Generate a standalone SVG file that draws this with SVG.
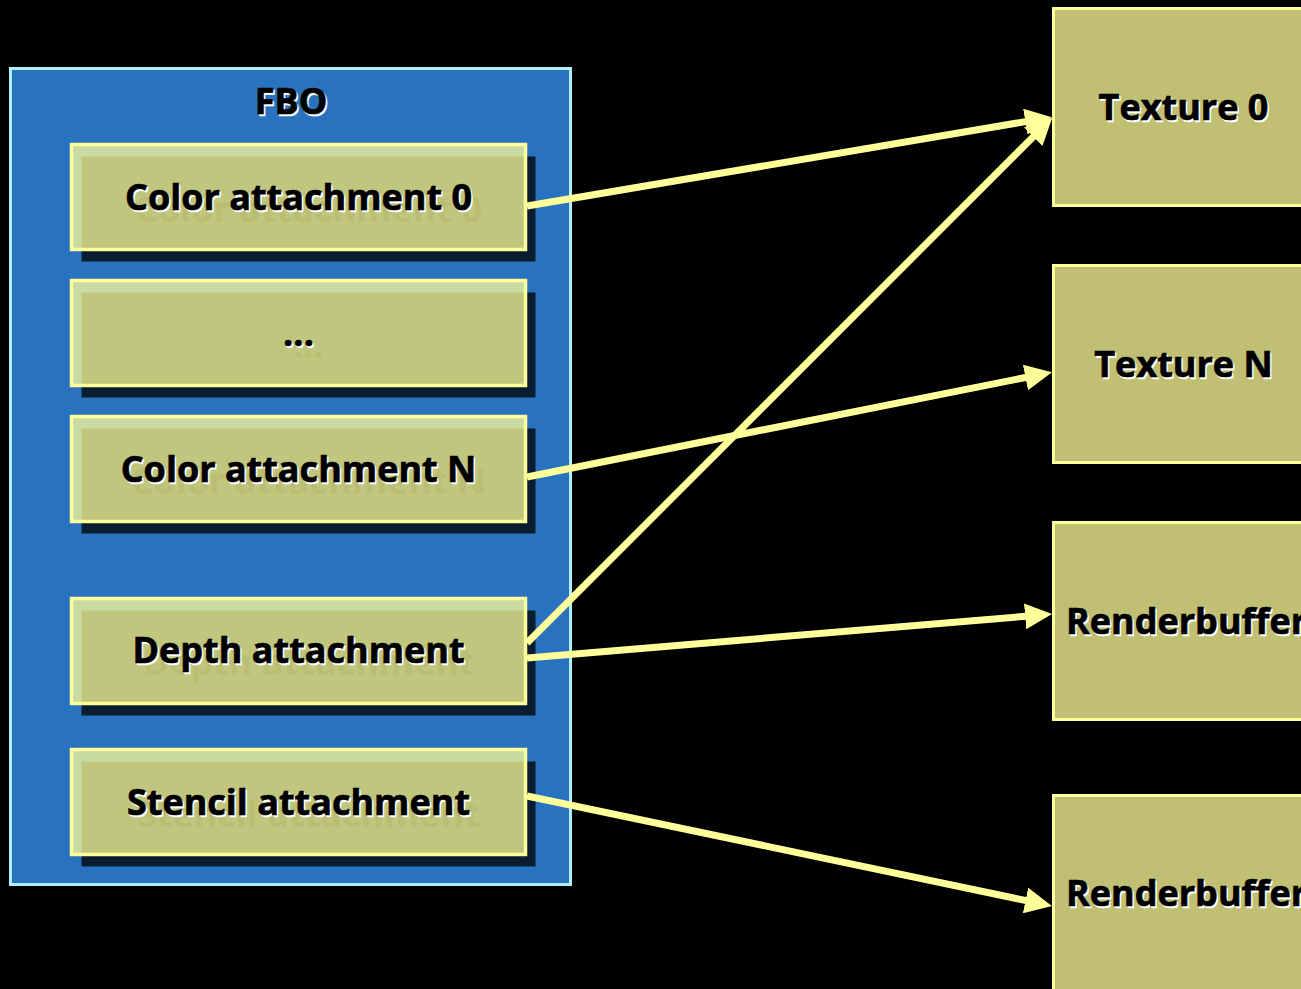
<svg xmlns="http://www.w3.org/2000/svg" width="1301" height="989" viewBox="0 0 1301 989">
  <defs>
    <style>
      .label { font-family: "Open Sans", "Liberation Sans", sans-serif; font-weight: 700; font-size: 36px; }
      .ink { fill: #000000; stroke: #000000; stroke-width: 0.7; }
      .glow { fill: #ffffff; stroke: #ffffff; stroke-width: 0.7; }
      .ghost { fill: #babd73; }
      .slot-shadow { fill: #000000; fill-opacity: 0.75; }
      .slot { fill: #ffff9a; fill-opacity: 0.75; stroke: #ffff99; stroke-width: 3.5; }
      .target { fill: #c0bf73; stroke: #ffff99; stroke-width: 3; }
      .link { stroke: #ffff99; stroke-width: 7; fill: none; marker-end: url(#head); }
    </style>
    <marker id="head" markerUnits="userSpaceOnUse" markerWidth="28" markerHeight="26" refX="10" refY="13" orient="auto" viewBox="0 0 28 26">
      <path d="M0,0 L27,13 L0,26 z" fill="#ffff99"/>
    </marker>
  </defs>

  <rect width="1301" height="989" fill="#000000"/>

  <!-- framebuffer object container -->
  <g id="fbo">
    <rect x="10.5" y="68.5" width="560" height="816" fill="#2872c0" stroke="#aef0ff" stroke-width="3"/>
    <text class="label glow" x="292.5" y="115.5" text-anchor="middle">FBO</text>
    <text class="label ink" x="291" y="114" text-anchor="middle">FBO</text>
  </g>

  <!-- attachment points: drop shadow, translucent face, embossed label -->
  <g id="color-attachment-0">
    <rect class="slot-shadow" x="81.5" y="156.5" width="454" height="105"/>
    <rect class="slot" x="71.5" y="144.5" width="454" height="105"/>
    <text class="label ghost" x="308.5" y="222" text-anchor="middle">Color attachment 0</text>
    <text class="label glow" x="300" y="211.5" text-anchor="middle">Color attachment 0</text>
    <text class="label ink" x="298.5" y="210" text-anchor="middle">Color attachment 0</text>
  </g>

  <g id="color-attachment-more">
    <rect class="slot-shadow" x="81.5" y="292.5" width="454" height="105"/>
    <rect class="slot" x="71.5" y="280.5" width="454" height="105"/>
    <text class="label ghost" x="308.5" y="358" text-anchor="middle">...</text>
    <text class="label glow" x="300" y="347.5" text-anchor="middle">...</text>
    <text class="label ink" x="298.5" y="346" text-anchor="middle">...</text>
  </g>

  <g id="color-attachment-n">
    <rect class="slot-shadow" x="81.5" y="428.5" width="454" height="105"/>
    <rect class="slot" x="71.5" y="416.5" width="454" height="105"/>
    <text class="label ghost" x="308.5" y="494" text-anchor="middle">Color attachment N</text>
    <text class="label glow" x="300" y="483.5" text-anchor="middle">Color attachment N</text>
    <text class="label ink" x="298.5" y="482" text-anchor="middle">Color attachment N</text>
  </g>

  <g id="depth-attachment">
    <rect class="slot-shadow" x="81.5" y="610.5" width="454" height="105"/>
    <rect class="slot" x="71.5" y="598.5" width="454" height="105"/>
    <text class="label ghost" x="308.5" y="675" text-anchor="middle">Depth attachment</text>
    <text class="label glow" x="300" y="664.5" text-anchor="middle">Depth attachment</text>
    <text class="label ink" x="298.5" y="663" text-anchor="middle">Depth attachment</text>
  </g>

  <g id="stencil-attachment">
    <rect class="slot-shadow" x="81.5" y="761.5" width="454" height="105"/>
    <rect class="slot" x="71.5" y="749.5" width="454" height="105"/>
    <text class="label ghost" x="308.5" y="827" text-anchor="middle">Stencil attachment</text>
    <text class="label glow" x="300" y="816.5" text-anchor="middle">Stencil attachment</text>
    <text class="label ink" x="298.5" y="815" text-anchor="middle">Stencil attachment</text>
  </g>

  <!-- attachable images -->
  <g id="texture-0">
    <rect class="target" x="1053.5" y="8.5" width="260" height="197"/>
    <text class="label glow" x="1185" y="121.5" text-anchor="middle">Texture 0</text>
    <text class="label ink" x="1183.5" y="120" text-anchor="middle">Texture 0</text>
  </g>

  <g id="texture-n">
    <rect class="target" x="1053.5" y="265.5" width="260" height="197"/>
    <text class="label glow" x="1185" y="378.5" text-anchor="middle">Texture N</text>
    <text class="label ink" x="1183.5" y="377" text-anchor="middle">Texture N</text>
  </g>

  <g id="renderbuffer-depth">
    <rect class="target" x="1053.5" y="522.5" width="260" height="197"/>
    <text class="label glow" x="1067.5" y="635.5">Renderbuffer</text>
    <text class="label ink" x="1066" y="634">Renderbuffer</text>
  </g>

  <g id="renderbuffer-stencil">
    <rect class="target" x="1053.5" y="795.5" width="260" height="197"/>
    <text class="label glow" x="1067.5" y="907.5">Renderbuffer</text>
    <text class="label ink" x="1066" y="906">Renderbuffer</text>
  </g>

  <!-- attachment bindings -->
  <g id="connectors">
    <line class="link" x1="527" y1="206" x2="1035.2" y2="120.0"/>
    <line class="link" x1="527" y1="643" x2="1040.3" y2="129.7"/>
    <line class="link" x1="527" y1="477" x2="1035.3" y2="375.5"/>
    <line class="link" x1="527" y1="658" x2="1035.1" y2="615.5"/>
    <line class="link" x1="527" y1="796" x2="1035.3" y2="902.5"/>
  </g>
</svg>
